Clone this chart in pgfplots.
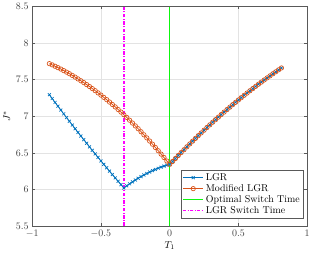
\documentclass[border=0pt]{standalone}
\usepackage{pgfplots}
\pgfplotsset{compat=1.18}
\usepackage{pgfplotstable}
\definecolor{mblue}{rgb}{0,0.447,0.741}
\definecolor{morange}{rgb}{0.85,0.325,0.098}
\definecolor{mgreen}{rgb}{0.05,0.97,0.05}
\definecolor{mmag}{rgb}{1,0,1}
\definecolor{axgray}{gray}{0.35}
\pgfplotstableread{
x lgr mod
-0.8750 7.295 7.719
-0.8542 7.242 7.702
-0.8333 7.189 7.683
-0.8125 7.137 7.664
-0.7917 7.085 7.645
-0.7708 7.033 7.624
-0.7500 6.982 7.603
-0.7292 6.931 7.581
-0.7083 6.880 7.558
-0.6875 6.829 7.535
-0.6667 6.779 7.510
-0.6458 6.729 7.485
-0.6250 6.680 7.460
-0.6042 6.631 7.433
-0.5833 6.582 7.406
-0.5625 6.533 7.378
-0.5417 6.485 7.349
-0.5208 6.437 7.319
-0.5000 6.389 7.289
-0.4792 6.342 7.258
-0.4583 6.295 7.227
-0.4375 6.249 7.194
-0.4167 6.202 7.161
-0.3958 6.156 7.127
-0.3750 6.111 7.092
-0.3542 6.065 7.057
-0.3333 6.020 7.021
-0.3125 6.049 6.984
-0.2917 6.076 6.946
-0.2708 6.102 6.907
-0.2500 6.128 6.868
-0.2292 6.152 6.829
-0.2083 6.175 6.788
-0.1875 6.197 6.746
-0.1667 6.217 6.704
-0.1458 6.237 6.661
-0.1250 6.255 6.618
-0.1042 6.273 6.573
-0.0833 6.289 6.528
-0.0625 6.304 6.482
-0.0417 6.318 6.436
-0.0208 6.331 6.388
0.0000 6.342 6.342
0.0208 6.381 6.381
0.0417 6.422 6.422
0.0625 6.463 6.463
0.0833 6.503 6.503
0.1042 6.542 6.542
0.1250 6.582 6.582
0.1458 6.621 6.621
0.1667 6.659 6.659
0.1875 6.697 6.697
0.2083 6.735 6.735
0.2292 6.772 6.772
0.2500 6.809 6.809
0.2708 6.846 6.846
0.2917 6.882 6.882
0.3125 6.918 6.918
0.3333 6.953 6.953
0.3542 6.988 6.988
0.3750 7.023 7.023
0.3958 7.057 7.057
0.4167 7.091 7.091
0.4375 7.124 7.124
0.4583 7.158 7.158
0.4792 7.190 7.190
0.5000 7.223 7.223
0.5208 7.254 7.254
0.5417 7.286 7.286
0.5625 7.317 7.317
0.5833 7.348 7.348
0.6042 7.378 7.378
0.6250 7.408 7.408
0.6458 7.438 7.438
0.6667 7.467 7.467
0.6875 7.496 7.496
0.7083 7.524 7.524
0.7292 7.552 7.552
0.7500 7.580 7.580
0.7708 7.607 7.607
0.7917 7.634 7.634
0.8125 7.660 7.660
}\datatable
\pgfplotstableread{
x y
0 5.5
0 8.5
}\optline
\pgfplotstableread{
x y
-0.3333 5.5
-0.3333 8.5
}\lgrline
\begin{document}
\begin{tikzpicture}
\begin{axis}[
  scale only axis,
  width=277pt, height=221pt,
  xmin=-1, xmax=1, ymin=5.5, ymax=8.5,
  xtick={-1,-0.5,0,0.5,1},
  ytick={5.5,6,6.5,7,7.5,8,8.5},
  grid=major,
  major grid style={draw=gray!22, line width=0.4pt},
  axis line style={draw=axgray, line width=0.5pt},
  tick style={draw=axgray, line width=0.5pt},
  tick align=inside,
  major tick length=3pt,
  tick label style={text=black!75, font=\normalsize},
  xticklabel style={yshift=-1pt},
  xlabel={$T_1$},
  ylabel={$J^*$},
  xlabel style={yshift=3pt},
  ylabel style={yshift=-1pt},
  legend style={
    at={(0.985,0.036)}, anchor=south east,
    draw=axgray, fill=white, line width=0.5pt,
    inner sep=1pt, row sep=-1.5pt,
    font=\normalsize,
    cells={anchor=west},
  },
  legend image code/.code={
    \draw[mark repeat=2, mark phase=2, #1] plot coordinates {(0pt,0pt) (10pt,0pt) (20pt,0pt)};
  },
]
\addplot[forget plot, color=mmag, draw=mmag, mark=none, line width=1.5pt, dash pattern=on 3.5pt off 1.5pt on 1pt off 1.5pt] table {\lgrline};
\addplot[forget plot, color=mgreen, draw=mgreen, mark=none, line width=1.5pt] table {\optline};
\addplot[color=mblue, line width=0.8pt, mark=x, mark size=2.1pt, mark options={solid, line width=0.7pt}] table[x=x, y=lgr] {\datatable};
\addlegendentry{LGR}
\addplot[color=morange, line width=0.8pt, mark=o, mark size=2.2pt, mark options={solid, line width=0.7pt}] table[x=x, y=mod] {\datatable};
\addlegendentry{Modified LGR}
\addlegendimage{color=mgreen, draw=mgreen, mark=none, line width=1.4pt}
\addlegendentry{Optimal Switch Time}
\addlegendimage{color=mmag, draw=mmag, mark=none, line width=1.3pt, dash pattern=on 3pt off 1.5pt on 1pt off 1.5pt}
\addlegendentry{LGR Switch Time}
\end{axis}
\end{tikzpicture}
\end{document}
